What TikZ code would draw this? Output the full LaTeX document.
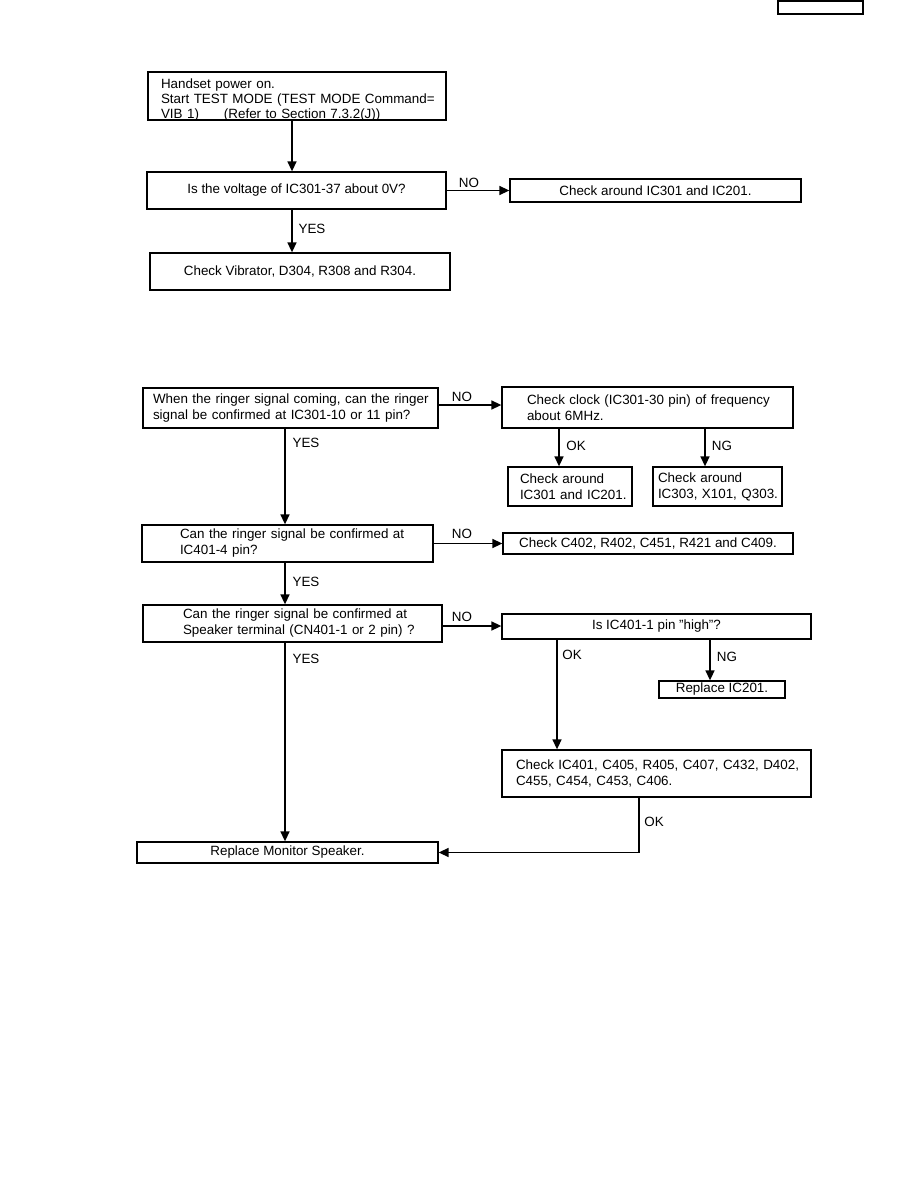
\documentclass[tikz,border=0pt]{standalone}
\usepackage{fontspec}
\setmainfont{Liberation Sans}
\usetikzlibrary{arrows.meta}
\begin{document}
\begin{tikzpicture}[x=1pt,y=-1pt,
  box/.style={draw, line width=1.3pt, inner sep=0pt, font=\fontsize{13.4}{16}\selectfont},
  cbox/.style={box, align=center},
  lbox/.style={box, align=left, inner xsep=4pt},
  arr/.style={line width=1.5pt, -{Triangle[length=10pt,width=9pt]}},
  lbl/.style={inner sep=0pt, font=\fontsize{13.4}{16}\selectfont}]
\useasboundingbox (0,0) rectangle (918,1188);

% header box
\node[draw, line width=1.5pt, minimum width=85pt, minimum height=13pt, inner sep=0pt] (hdr) at (820.5,7.5) {};

% ---- first chart
\node[lbox, minimum width=298pt, minimum height=48pt, text width=290pt, font=\fontsize{13.4}{15}\selectfont] (b1) at (297,96)
  {\hspace*{9pt}\rule{0pt}{15pt}Handset power on.\\ \hspace*{9pt}Start TEST MODE (TEST MODE Command=\\ \hspace*{9pt}\raisebox{0pt}[\height][0pt]{VIB 1)\hspace{25pt}(Refer to Section 7.3.2(J))}};
\node[cbox, minimum width=299pt, minimum height=37pt] (b2) at (296.5,190.5) {Is the voltage of IC301-37 about 0V?};
\node[cbox, minimum width=291pt, minimum height=23pt] (b2n) at (655.5,190.5) {Check around IC301 and IC201.};
\node[cbox, minimum width=300pt, minimum height=37pt] (b3) at (300,271.5) {Check Vibrator, D304, R308 and R304.};

\draw[arr] (b1.south -| 292,0) -- (b2.north -| 292,0);
\draw[arr] (b2.east) -- (b2n.west);
\draw[arr] (b2.south -| 292,0) -- (b3.north -| 292,0);
\node[lbl] (l1) at (469,183) {NO};
\node[lbl] (l2) at (312,229) {YES};

% ---- second chart
\node[lbox, minimum width=295pt, minimum height=40pt, text width=287pt] (A) at (290.5,408)
  {\hspace*{6pt}When the ringer signal coming, can the ringer\\ \hspace*{6pt}signal be confirmed at IC301-10 or 11 pin?};
\node[lbox, minimum width=291pt, minimum height=41pt, text width=283pt] (clk) at (647.5,407.5)
  {\hspace*{21pt}Check clock (IC301-30 pin) of frequency\\ \hspace*{21pt}about 6MHz.};
\node[lbox, minimum width=124pt, minimum height=39pt, text width=116pt] (okA) at (570,486.5)
  {\hspace*{8pt}Check around\\ \hspace*{8pt}IC301 and IC201.};
\node[lbox, minimum width=129pt, minimum height=39pt, text width=121pt] (ngA) at (717.5,486.5)
  {\hspace*{1pt}Check around\\ \hspace*{1pt}IC303, X101, Q303.};
\node[lbox, minimum width=291pt, minimum height=37pt, text width=283pt] (B) at (287.5,543.5)
  {\hspace*{34pt}Can the ringer signal be confirmed at\\ \hspace*{34pt}IC401-4 pin?};
\node[cbox, minimum width=290pt, minimum height=21pt] (C) at (648,543.5) {Check C402, R402, C451, R421 and C409.};
\node[lbox, minimum width=299pt, minimum height=37pt, text width=291pt] (D) at (292.5,623.5)
  {\hspace*{36pt}Can the ringer signal be confirmed at\\ \hspace*{36pt}Speaker terminal (CN401-1 or 2 pin) ?};
\node[cbox, minimum width=309pt, minimum height=25pt] (F) at (656.5,626.5) {Is IC401-1 pin {\char34}high{\char34}?};
\node[cbox, minimum width=126pt, minimum height=17pt] (R) at (722,689.5) {Replace IC201.};
\node[lbox, minimum width=309pt, minimum height=47pt, text width=301pt] (G) at (656.5,773.5)
  {\hspace*{10pt}Check IC401, C405, R405, C407, C432, D402,\\ \hspace*{10pt}C455, C454, C453, C406.};
\node[cbox, minimum width=301pt, minimum height=21pt] (E) at (287.5,852.5) {Replace Monitor Speaker.};

\draw[arr] (A.east |- 0,405) -- (clk.west |- 0,405);
\draw[arr] (clk.south -| 559,0) -- (okA.north -| 559,0);
\draw[arr] (clk.south -| 705,0) -- (ngA.north -| 705,0);
\draw[arr] (A.south -| 285,0) -- (B.north -| 285,0);
\draw[arr] (B.east) -- (C.west);
\draw[arr] (B.south -| 285,0) -- (D.north -| 285,0);
\draw[arr] (D.east |- 0,626) -- (F.west |- 0,626);
\draw[arr] (D.south -| 285,0) -- (E.north -| 285,0);
\draw[arr] (F.south -| 557,0) -- (G.north -| 557,0);
\draw[arr] (F.south -| 710,0) -- (R.north -| 710,0);
\draw[arr] (G.south -| 639,0) -- (E.east -| 639,0) -- (E.east);

\node[lbl] (l3) at (462,397) {NO};
\node[lbl] (l4) at (306,443) {YES};
\node[lbl] (l5) at (576,446) {OK};
\node[lbl] (l6) at (722,446) {NG};
\node[lbl] (l7) at (462,534) {NO};
\node[lbl] (l8) at (306,582) {YES};
\node[lbl] (l9) at (462,617) {NO};
\node[lbl] (l10) at (306,659) {YES};
\node[lbl] (l11) at (572,655) {OK};
\node[lbl] (l12) at (727,657) {NG};
\node[lbl] (l13) at (654,822) {OK};
\end{tikzpicture}
\end{document}
